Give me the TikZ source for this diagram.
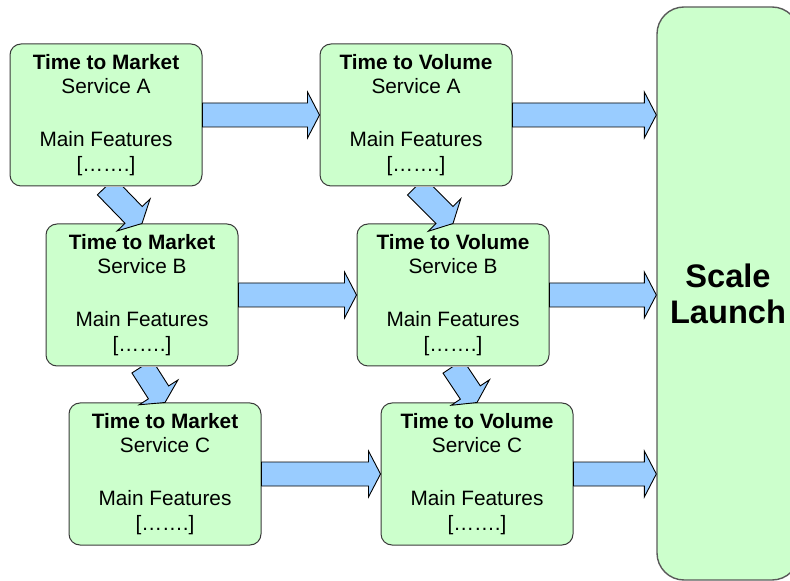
\documentclass[tikz,border=0pt]{standalone}
\usepackage{fontspec}
\setmainfont{Liberation Sans}
\usepackage{tikz}
\usetikzlibrary{calc}
\definecolor{svcFill}{HTML}{CCFFCC}
\definecolor{svcRule}{HTML}{3A3A3A}
\definecolor{launchRule}{HTML}{5A5A5A}
\definecolor{flowFill}{HTML}{99CCFF}

% block arrow from #1 to #2
\newcommand{\flowarrow}[2]{%
  \coordinate (hb) at ($(#2)!6pt!(#1)$);
  \draw[flow] ($(#1)!6pt!90:(#2)$) -- ($(hb)!6pt!90:(#2)$) -- ($(hb)!11.5pt!90:(#2)$)
    -- (#2) -- ($(hb)!11.5pt!-90:(#2)$) -- ($(hb)!6pt!-90:(#2)$)
    -- ($(#1)!6pt!-90:(#2)$) -- cycle;}
% same, tail hidden under the upper box
\newcommand{\dropflow}[2]{%
  \begin{scope}
    \clip ($(#1)+(-60,1)$) rectangle ($(#2)+(60,30)$);
    \flowarrow{#1}{#2}
  \end{scope}}

\begin{document}
\begin{tikzpicture}[x=0.5pt, y=-0.5pt,
    svc/.style={draw=svcRule, fill=svcFill, rounded corners=5.5pt, line width=0.5pt,
                minimum width=96pt, minimum height=71pt, inner sep=0pt, align=center,
                font=\fontsize{10.4}{12.4}\selectfont},
    launch/.style={draw=launchRule, fill=svcFill, rounded corners=13.5pt, line width=0.7pt,
                   minimum width=71pt, minimum height=286.5pt, inner sep=0pt, align=center,
                   font=\fontsize{16.3}{18}\selectfont\bfseries},
    flow/.style={draw=black, fill=flowFill, line width=0.45pt, line join=miter}]

    \useasboundingbox (0,0) rectangle (790,581);

    \node[svc] (tma) at (106,115) {\textbf{Time to Market}\\Service A\\[14pt]Main Features\\{[…….]}};
    \node[svc] (tva) at (416,115) {\textbf{Time to Volume}\\Service A\\[14pt]Main Features\\{[…….]}};
    \node[svc] (tmb) at (142,295) {\textbf{Time to Market}\\Service B\\[14pt]Main Features\\{[…….]}};
    \node[svc] (tvb) at (453,295) {\textbf{Time to Volume}\\Service B\\[14pt]Main Features\\{[…….]}};
    \node[svc] (tmc) at (165,474) {\textbf{Time to Market}\\Service C\\[14pt]Main Features\\{[…….]}};
    \node[svc] (tvc) at (477,474) {\textbf{Time to Volume}\\Service C\\[14pt]Main Features\\{[…….]}};
    \node[launch] (scale) at (728,293.5) {Scale\\Launch};

    \coordinate (inA) at (scale.west |- tva.east);
    \coordinate (inB) at (scale.west |- tvb.east);
    \coordinate (inC) at (scale.west |- tvc.east);

    \flowarrow{tma.east}{tva.west}
    \flowarrow{tmb.east}{tvb.west}
    \flowarrow{tmc.east}{tvc.west}
    \flowarrow{tva.east}{inA}
    \flowarrow{tvb.east}{inB}
    \flowarrow{tvc.east}{inC}

    \dropflow{tma.south}{tmb.north}
    \dropflow{tva.south}{tvb.north}
    \dropflow{tmb.south}{tmc.north}
    \dropflow{tvb.south}{tvc.north}
\end{tikzpicture}
\end{document}
